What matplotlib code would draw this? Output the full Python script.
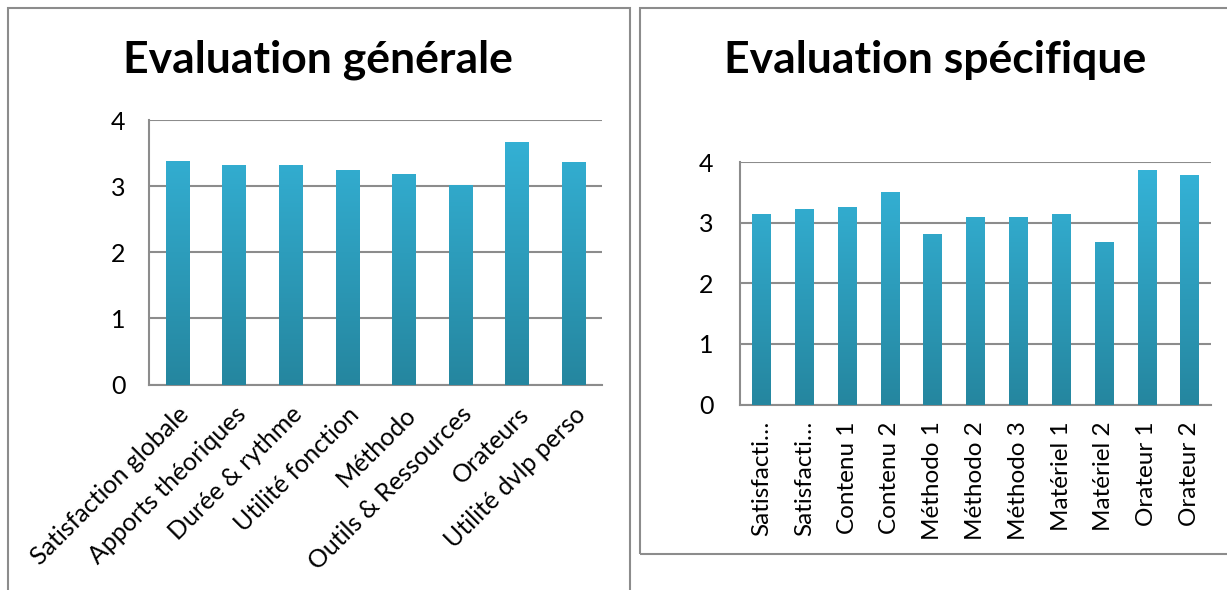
import numpy as np
import matplotlib
matplotlib.use('Agg')
import matplotlib.pyplot as plt
from matplotlib.colors import LinearSegmentedColormap
from matplotlib.patches import Rectangle

plt.rcParams['font.family'] = ['Lato', 'DejaVu Sans']

gen_labels = ['Satisfaction globale', 'Apports théoriques', 'Durée & rythme',
              'Utilité fonction', 'Méthodo', 'Outils & Ressources', 'Orateurs',
              'Utilité dvlp perso']
gen_values = [3.38, 3.32, 3.32, 3.24, 3.19, 3.01, 3.67, 3.36]

spec_labels = ['Satisfacti…', 'Satisfacti…', 'Contenu 1', 'Contenu 2', 'Méthodo 1',
               'Méthodo 2', 'Méthodo 3', 'Matériel 1', 'Matériel 2', 'Orateur 1',
               'Orateur 2']
spec_values = [3.15, 3.23, 3.27, 3.51, 2.82, 3.10, 3.10, 3.15, 2.69, 3.88, 3.79]

yticks = [0, 1, 2, 3, 4]

grad = LinearSegmentedColormap.from_list('g', ['#25869f', '#35b4d9'])
grey = '#8c8c8c'


def gradient_bars(ax, values, width):
    x = np.arange(len(values))
    bars = ax.bar(x, values, width=width, color='none', zorder=3)
    g = np.linspace(0, 1, 256).reshape(-1, 1)
    for b in bars:
        x0 = b.get_x()
        im = ax.imshow(g, cmap=grad, origin='lower', aspect='auto',
                       extent=[x0, x0 + b.get_width(), 0, 4], zorder=3)
        im.set_clip_path(b)
    return x


def style(ax, n, ypad):
    ax.set_xlim(-0.5, n - 0.5)
    ax.set_ylim(0, 4)
    ax.set_yticks(yticks)
    ax.grid(axis='y', color=grey, linewidth=1.5, zorder=1)
    ax.set_axisbelow(True)
    for s in ['top', 'right']:
        ax.spines[s].set_visible(False)
    for s in ['left', 'bottom']:
        ax.spines[s].set_color(grey)
        ax.spines[s].set_linewidth(1.5)
    ax.tick_params(length=0)
    ax.tick_params(axis='y', labelsize=18, pad=ypad)


fig = plt.figure(figsize=(12.27, 5.90), dpi=100)

# panel borders
fig.patches.append(Rectangle((8 / 1227, -0.1), 622 / 1227, 1.1 - 8 / 590,
                             transform=fig.transFigure, fill=False,
                             edgecolor=grey, linewidth=1.5))
fig.patches.append(Rectangle((640 / 1227, 36 / 590), 600 / 1227, 546 / 590,
                             transform=fig.transFigure, fill=False,
                             edgecolor=grey, linewidth=1.5))

ax1 = fig.add_axes([0.1214, 0.3483, 0.3692, 0.4483])
x1 = gradient_bars(ax1, gen_values, 0.41)
style(ax1, len(gen_values), 17)
ax1.set_xticks(x1)
ax1.set_xticklabels(gen_labels, rotation=45, ha='right', va='top',
                    rotation_mode='anchor', fontsize=18)
ax1.tick_params(axis='x', pad=13)

ax2 = fig.add_axes([0.6031, 0.3144, 0.3839, 0.4102])
x2 = gradient_bars(ax2, spec_values, 0.43)
style(ax2, len(spec_values), 19)
ax2.set_xticks(x2)
ax2.set_xticklabels(spec_labels, rotation=90, fontsize=17.5)
ax2.tick_params(axis='x', pad=12)

fig.text(318 / 1227, 1 - 60 / 590, 'Evaluation générale', ha='center',
         va='center', fontsize=32, fontweight='bold')
fig.text(935 / 1227, 1 - 60 / 590, 'Evaluation spécifique', ha='center',
         va='center', fontsize=32, fontweight='bold')

fig.savefig('out.png', dpi=100)
